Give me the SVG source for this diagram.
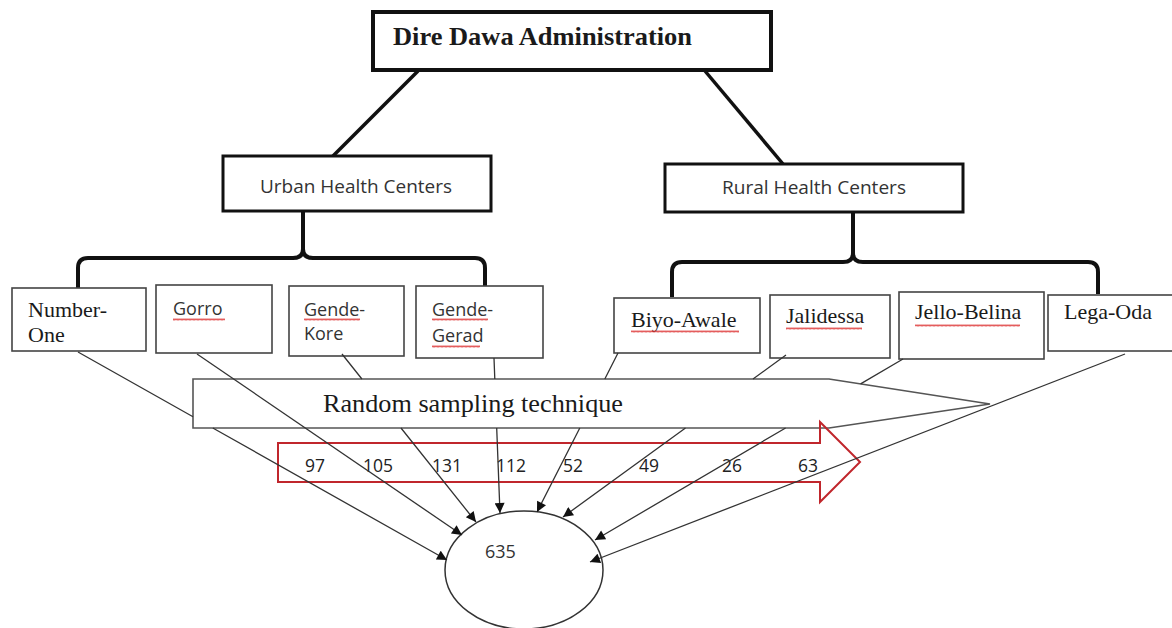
<svg xmlns="http://www.w3.org/2000/svg" width="1172" height="628" viewBox="0 0 1172 628">
<style>
.thick{fill:#fff;stroke:#111;stroke-width:4}
.mid{fill:#fff;stroke:#111;stroke-width:3}
.leaf{fill:#fff;stroke:#444;stroke-width:1.6}
.brace{fill:none;stroke:#111;stroke-width:4;stroke-linejoin:round}
.trunk{fill:none;stroke:#111;stroke-width:3.5}
.conn{fill:none;stroke:#333;stroke-width:1.3;marker-end:url(#ah)}
.serif{font-family:"Liberation Serif","Times New Roman",serif;fill:#1a1a1a}
.sans{font-family:"Open Sans","Liberation Sans",sans-serif;fill:#333}
.num{font-family:"Open Sans","Liberation Sans",sans-serif;fill:#222;font-size:17.5px}
.sq{fill:url(#sq)}
</style>
<defs>
<marker id="ah" viewBox="0 0 10 10" refX="10" refY="5" markerWidth="12" markerHeight="10" markerUnits="userSpaceOnUse" orient="auto">
<path d="M0,0 L10,5 L0,10 z" fill="#111"/>
</marker>
<pattern id="sq" width="4" height="3" patternUnits="userSpaceOnUse">
<path d="M0,2.5 L1,0.5 L2,2.5 L3,0.5 L4,2.5" fill="none" stroke="#d33" stroke-width="0.8"/>
</pattern>
</defs>
<rect width="1172" height="628" fill="#fff"/>

<g id="tree-lines">
<line class="trunk" x1="418" y1="71" x2="332" y2="157"/>
<line class="trunk" x1="705" y1="71" x2="783" y2="164"/>
<path class="brace" d="M303,212 V249 Q303,258 293,258 H88 Q78,258 78,268 V288"/>
<path class="brace" d="M303,249 Q303,258 313,258 H475 Q485,258 485,268 V286"/>
<path class="brace" d="M853,212 V253 Q853,262 843,262 H682 Q672,262 672,272 V297"/>
<path class="brace" d="M853,253 Q853,262 863,262 H1088 Q1098,262 1098,272 V294"/>
</g>

<g id="node-admin">
<rect class="thick" x="373" y="12" width="398" height="58"/>
<text class="serif" x="393" y="45" font-size="26" font-weight="bold" textLength="299" lengthAdjust="spacingAndGlyphs">Dire Dawa Administration</text>
</g>
<g id="node-urban">
<rect class="mid" x="223" y="156" width="268" height="55"/>
<text class="sans" x="260" y="193" font-size="18" textLength="192" lengthAdjust="spacingAndGlyphs">Urban Health Centers</text>
</g>
<g id="node-rural">
<rect class="mid" x="665" y="164" width="298" height="48"/>
<text class="sans" x="722" y="194" font-size="18" textLength="184" lengthAdjust="spacingAndGlyphs">Rural Health Centers</text>
</g>

<g id="node-number-one">
<rect class="leaf" x="12" y="288" width="134" height="63"/>
<text class="serif" x="28" y="317" font-size="22">Number-</text>
<text class="serif" x="28" y="342" font-size="22">One</text>
</g>
<g id="node-gorro">
<rect class="leaf" x="156" y="285" width="116" height="68"/>
<text class="sans" x="173" y="315" font-size="18">Gorro</text>
<rect class="sq" x="173" y="318" width="52" height="3"/>
</g>
<g id="node-gende-kore">
<rect class="leaf" x="289" y="286" width="115" height="70"/>
<text class="sans" x="304" y="316" font-size="18">Gende-</text>
<text class="sans" x="304" y="340" font-size="18">Kore</text>
<rect class="sq" x="304" y="318" width="56" height="3"/>
</g>
<g id="node-gende-gerad">
<rect class="leaf" x="416" y="286" width="127" height="72"/>
<text class="sans" x="432" y="316" font-size="18">Gende-</text>
<text class="sans" x="432" y="342" font-size="18">Gerad</text>
<rect class="sq" x="432" y="318" width="56" height="3"/>
<rect class="sq" x="432" y="345" width="48" height="3"/>
</g>
<g id="node-biyo-awale">
<rect class="leaf" x="614" y="298" width="146" height="55"/>
<text class="serif" x="631" y="327" font-size="22">Biyo-Awale</text>
<rect class="sq" x="631" y="330" width="108" height="3"/>
</g>
<g id="node-jalidessa">
<rect class="leaf" x="770" y="295" width="120" height="63"/>
<text class="serif" x="786" y="323" font-size="22">Jalidessa</text>
<rect class="sq" x="786" y="327" width="76" height="3"/>
</g>
<g id="node-jello-belina">
<rect class="leaf" x="899" y="292" width="145" height="67"/>
<text class="serif" x="915" y="319" font-size="22">Jello-Belina</text>
<rect class="sq" x="915" y="324" width="105" height="3"/>
</g>
<g id="node-lega-oda">
<rect class="leaf" x="1048" y="295" width="140" height="56"/>
<text class="serif" x="1064" y="319" font-size="22">Lega-Oda</text>
</g>

<g id="node-sampling">
<path d="M193,379 L829,379 L990,404 L829,428 L193,428 Z" fill="#fff" stroke="#555" stroke-width="1.6"/>
<text class="serif" x="323" y="412" font-size="26" textLength="300" lengthAdjust="spacingAndGlyphs">Random sampling technique</text>
</g>

<g id="node-flow-arrow">
<path d="M278,443 L820,443 L820,422 L860,462 L820,502 L820,482 L278,482 Z" fill="none" stroke="#c0262c" stroke-width="2"/>
<text class="num" x="305" y="472">97</text>
<text class="num" x="363" y="472">105</text>
<text class="num" x="432" y="472">131</text>
<text class="num" x="496" y="472">112</text>
<text class="num" x="563" y="472">52</text>
<text class="num" x="639" y="472">49</text>
<text class="num" x="722" y="472">26</text>
<text class="num" x="798" y="472">63</text>
</g>

<g id="node-total">
<ellipse cx="524" cy="570" rx="79" ry="59" fill="none" stroke="#333" stroke-width="1.5"/>
<text class="sans" x="485" y="558" font-size="18">635</text>
</g>

<g id="connectors">
<path class="conn" d="M78,352 L193,416.8 M212.8,428 L447,560"/>
<path class="conn" d="M197,354 L462,535"/>
<path class="conn" d="M342,354 L361.9,379 M401,428 L476,522"/>
<path class="conn" d="M494,358 L494.8,379 M496.7,428 L500,513"/>
<path class="conn" d="M618,353 L604.8,379 M579.8,428 L537,512"/>
<path class="conn" d="M786,355 L753,379 M685.5,428 L563,517"/>
<path class="conn" d="M903,359 L860.6,383.9 M785.6,428 L595,540"/>
<path class="conn" d="M1125,354 L590,562"/>
</g>
</svg>
